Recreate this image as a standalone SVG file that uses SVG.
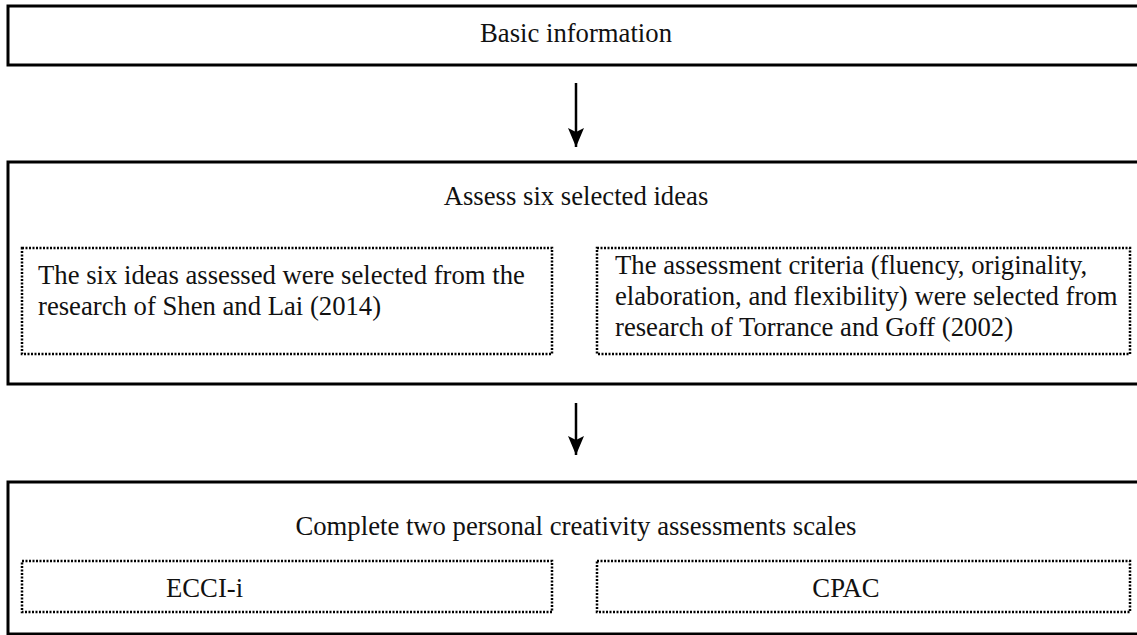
<svg xmlns="http://www.w3.org/2000/svg" width="1137" height="635" viewBox="0 0 1137 635">
<style>
.box{fill:#fff;stroke:#000;stroke-width:3}
.dot{fill:none;stroke:#000;stroke-width:2.5;stroke-dasharray:2 1.5}
text{font-family:"Liberation Serif","Times New Roman",serif;font-size:26.7px;fill:#111}
.c{text-anchor:middle}
.ln{stroke:#000;stroke-width:2.5;fill:none}
</style>
<defs>
<marker id="ah" markerWidth="20" markerHeight="16" refX="19" refY="8" orient="auto" markerUnits="userSpaceOnUse" viewBox="0 0 20 16">
<path d="M0,0 L19,8 L0,16 L4,8 z" fill="#000"/>
</marker>
</defs>
<rect width="1137" height="635" fill="#fff"/>
<g id="n1">
<rect class="box" x="8" y="6" width="1140" height="59"/>
<text class="c" x="576" y="42">Basic information</text>
</g>
<g id="n2">
<rect class="box" x="8" y="162" width="1140" height="222"/>
<text class="c" x="576" y="205">Assess six selected ideas</text>
</g>
<g id="n2a">
<rect class="dot" x="22" y="248" width="530" height="106"/>
<text x="38" y="284">The six ideas assessed were selected from the</text>
<text x="38" y="315">research of Shen and Lai (2014)</text>
</g>
<g id="n2b">
<rect class="dot" x="597" y="248" width="533" height="106"/>
<text x="615" y="274">The assessment criteria (fluency, originality,</text>
<text x="615" y="305">elaboration, and flexibility) were selected from</text>
<text x="615" y="336">research of Torrance and Goff (2002)</text>
</g>
<g id="n3">
<rect class="box" x="8" y="482" width="1140" height="152"/>
<text class="c" x="576" y="535">Complete two personal creativity assessments scales</text>
</g>
<g id="n3a">
<rect class="dot" x="22" y="561" width="530" height="51"/>
<text x="166" y="597">ECCI-i</text>
</g>
<g id="n3b">
<rect class="dot" x="597" y="561" width="533" height="51"/>
<text class="c" x="846" y="597">CPAC</text>
</g>
<g id="connectors">
<line class="ln" x1="576" y1="83" x2="576" y2="147" marker-end="url(#ah)"/>
<line class="ln" x1="576" y1="403" x2="576" y2="455" marker-end="url(#ah)"/>
</g>
</svg>
